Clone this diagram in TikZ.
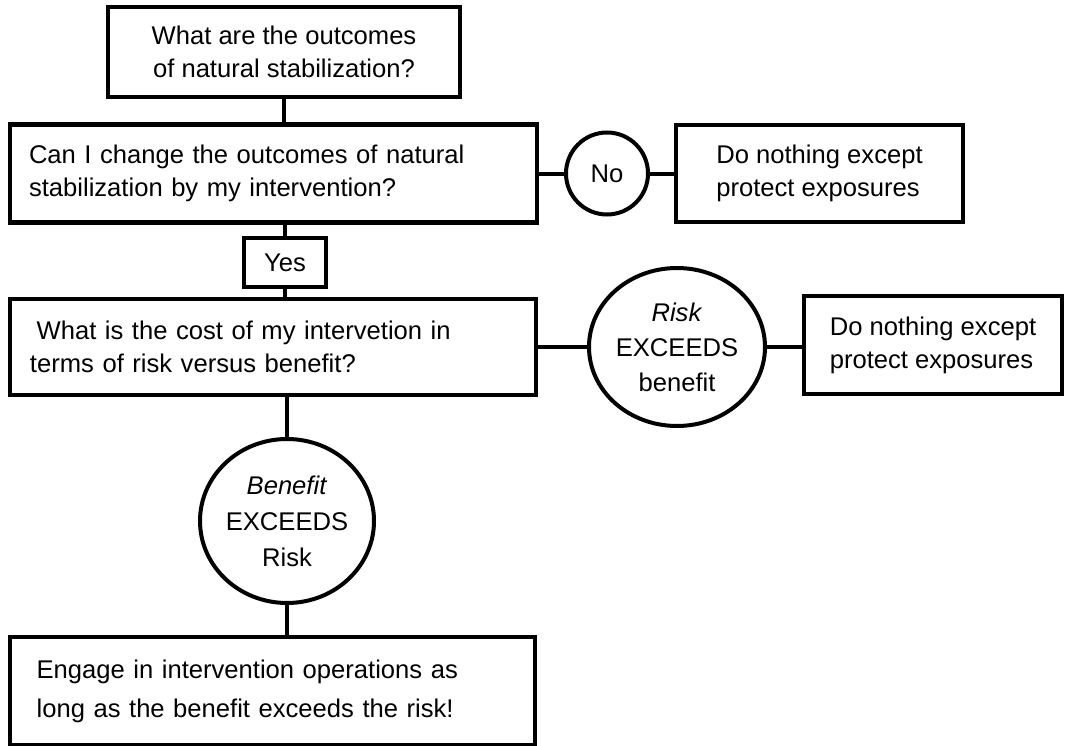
\documentclass[tikz,border=0pt]{standalone}
\usepackage{fontspec}
\setmainfont{Liberation Sans}
\usetikzlibrary{calc, shapes, arrows}

\begin{document}
\begin{tikzpicture}[x=0.75pt, y=-0.75pt,
	qbox/.style={draw, line width=3.4pt, rectangle, inner sep=0pt},
	qround/.style={draw, line width=3pt, ellipse, inner sep=0pt, align=center},
	qlink/.style={line width=3pt}]
				\newcommand{\myfontbox}{\fontsize{19.2}{24.75}\selectfont}
				\newcommand{\myfontwide}{\fontsize{19.2}{29.25}\selectfont}
				\useasboundingbox (0,0) rectangle (1065,746);
				%Centres of the boxes
				\coordinate (centerOutcomes) at (284,52);
				\coordinate (centerChange) at (273.5,173.5);
				\coordinate (centerNo) at (607,173.5);
				\coordinate (centerNothingA) at (819.5,173.5);
				\coordinate (centerYes) at (285,262.5);
				\coordinate (centerCost) at (273,347);
				\coordinate (centerRisk) at (677,347);
				\coordinate (centerNothingB) at (933,345);
				\coordinate (centerBenefit) at (287,521);
				\coordinate (centerEngage) at (272.5,691);
				%The questions
				\node [qbox, font=\myfontbox, align=center, minimum width=264pt, minimum height=67.5pt] (outcomes) at (centerOutcomes) {What are the outcomes\\of natural stabilization?};
				\node [qbox, font=\myfontbox, align=left, inner xsep=14.25pt, text width=366.75pt, minimum height=73.5pt] (change) at (centerChange) {Can I change the outcomes of natural\\stabilization by my intervention?};
				\node [qbox, font=\myfontbox, align=left, inner xsep=15pt, text width=364.5pt, minimum height=72pt] (cost) at (centerCost) {\hspace*{5pt}What is the cost of my intervetion in\\terms of risk versus benefit?};
				%Yes and No
				\node [qround, font=\myfontbox, circle, minimum size=61.5pt] (no) at (centerNo) {No};
				\node [qbox, font=\myfontbox, minimum width=61.5pt, minimum height=36.75pt] (yes) at (centerYes) {Yes};
				%Risk against benefit
				\node [qround, font=\fontsize{19.2}{26.25}\selectfont, minimum width=132pt, minimum height=118.5pt] (risk) at (centerRisk) {\textit{Risk}\\EXCEEDS\\benefit};
				\node [qround, font=\fontsize{19.2}{27}\selectfont, minimum width=130.5pt, minimum height=123pt] (benefit) at (centerBenefit) {\textit{Benefit}\\EXCEEDS\\Risk};
				%The answers
				\node [qbox, font=\myfontbox, align=left, minimum width=215.25pt, minimum height=72.75pt] (nothingA) at (centerNothingA) {Do nothing except\\protect exposures};
				\node [qbox, font=\myfontbox, align=left, minimum width=193.5pt, minimum height=73.5pt] (nothingB) at (centerNothingB) {Do nothing except\\protect exposures};
				\node [qbox, font=\myfontwide, align=left, inner xsep=20pt, text width=353.75pt, minimum height=81pt] (engage) at (centerEngage) {Engage in intervention operations as\\long as the benefit exceeds the risk!};
				%Connectors
				\draw [qlink] (outcomes.south) -- (outcomes.south |- change.north);
				\draw [qlink] (change.south -| yes) -- (yes.north);
				\draw [qlink] (yes.south) -- (yes.south |- cost.north);
				\draw [qlink] (change.east) -- (no.west);
				\draw [qlink] (no.east) -- (nothingA.west);
				\draw [qlink] (cost.east) -- (risk.west);
				\draw [qlink] (risk.east) -- (risk.east -| nothingB.west);
				\draw [qlink] (cost.south -| benefit) -- (benefit.north);
				\draw [qlink] (benefit.south) -- (benefit.south |- engage.north);
\end{tikzpicture}
\end{document}
